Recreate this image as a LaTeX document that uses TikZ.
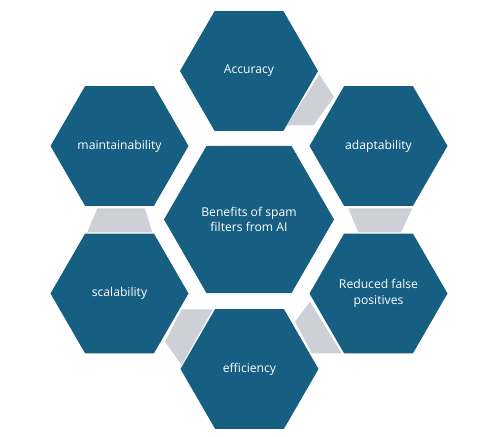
\documentclass[tikz,border=0pt]{standalone}
\usepackage{fontspec}
\setmainfont{Open Sans}
\usetikzlibrary{shapes.geometric}
\definecolor{hexblue}{HTML}{175F82}
\definecolor{linkgray}{RGB}{205,209,215}
\begin{document}
\begin{tikzpicture}[x=1bp,y=-1bp,
  hex/.style={regular polygon, regular polygon sides=6, minimum size=138bp,
    inner sep=0pt, outer sep=0pt, fill=hexblue, text=white,
    font=\fontsize{12.2}{15.5}\selectfont, align=center},
  bighex/.style={hex, minimum size=170bp},
  link/.style={fill=linkgray}]
\fill[white] (0,0) rectangle (494,437);
\useasboundingbox (0,0) rectangle (494,437);
% gray links
\fill[link] (319.3,74.5) -- (334,97) -- (313.3,125.5) -- (286.7,125.5) -- cycle;
\fill[link] (348.3,208.3) -- (412.3,208.3) -- (401,232.3) -- (358.3,232.3) -- cycle;
\fill[link] (310,301.7) -- (341.7,353.3) -- (311.7,353.3) -- (295,321.7) -- cycle;
\fill[link] (181.7,309.3) -- (212.7,309.3) -- (181.7,365) -- (165,341.7) -- cycle;
\fill[link] (97.3,208.3) -- (145,208.3) -- (152.3,232.3) -- (87.3,232.3) -- cycle;
% hexagons
\node[bighex] (center) at (249,219.5) {Benefits of spam\\filters from AI};
\node[hex] (accuracy) at (249,71) {Accuracy};
\node[hex] (adapt) at (378.5,146) {adaptability};
\node[hex] (reduced) at (378.5,293.5) {Reduced false\\positives};
\node[hex] (eff) at (249.5,369) {efficiency};
\node[hex] (scal) at (119.5,293.5) {scalability};
\node[hex] (maint) at (119.5,146) {maintainability};
\end{tikzpicture}
\end{document}
